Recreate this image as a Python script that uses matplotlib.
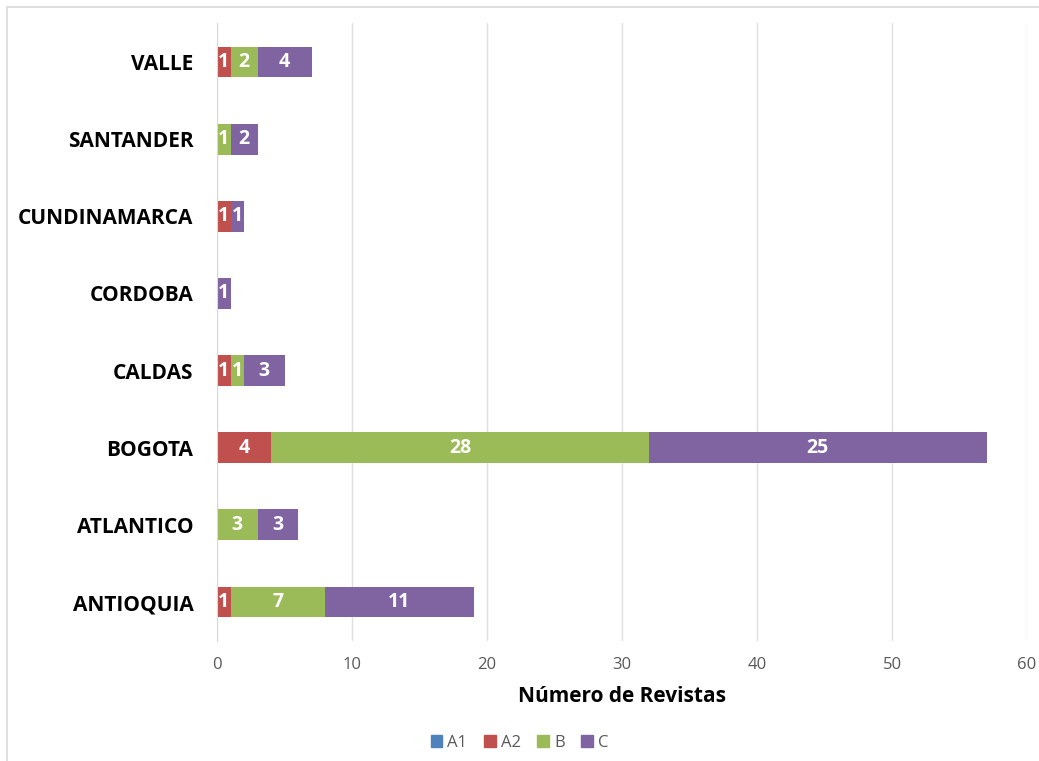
import matplotlib.pyplot as plt
import matplotlib.patches as mpatches
import numpy as np

# datos por departamento (de abajo hacia arriba)
departamentos = ["ANTIOQUIA", "ATLANTICO", "BOGOTA", "CALDAS",
                 "CORDOBA", "CUNDINAMARCA", "SANTANDER", "VALLE"]
a1 = [0, 0, 0, 0, 0, 0, 0, 0]
a2 = [1, 0, 4, 1, 0, 1, 0, 1]
b = [7, 3, 28, 1, 0, 0, 1, 2]
c = [11, 3, 25, 3, 1, 1, 2, 4]

series = ["A1", "A2", "B", "C"]
colores = ["#4F81BD", "#C0504D", "#9BBB59", "#8064A2"]

plt.rcParams['font.family'] = ['Open Sans', 'DejaVu Sans']

fig = plt.figure(figsize=(10.39, 7.61), dpi=100)
ax = fig.add_axes([0.2089, 0.1582, 0.7796, 0.8111])

y = np.arange(len(departamentos))
izq = np.zeros(len(departamentos))
handles = []
for nombre, vals, col in zip(series, [a1, a2, b, c], colores):
    vals = np.array(vals, dtype=float)
    barras = ax.barh(y, vals, left=izq, height=0.4, color=col, label=nombre)
    etiquetas = [str(int(v)) if v > 0 else "" for v in vals]
    ax.bar_label(barras, labels=etiquetas, label_type='center',
                 color='white', fontsize=14, fontweight='bold')
    izq += vals
    handles.append(mpatches.Patch(color=col, label=nombre))

ax.set_xlim(0, 60)
ax.set_ylim(-0.5, len(departamentos) - 0.5)
ax.set_xticks(range(0, 61, 10))
ax.set_yticks(y)
ax.set_yticklabels(departamentos, fontsize=15, fontweight='bold')
ax.tick_params(axis='y', length=0, pad=17)
ax.tick_params(axis='x', length=0, pad=12, labelsize=12, labelcolor='#595959')
ax.xaxis.grid(True, color='#E0E0E0', linewidth=1)
ax.set_axisbelow(True)
for s in ['top', 'right', 'bottom']:
    ax.spines[s].set_visible(False)
ax.spines['left'].set_color('#D9D9D9')

ax.set_xlabel("Número de Revistas", fontsize=15, fontweight='bold', labelpad=9)

fig.legend(handles=handles, loc='center', bbox_to_anchor=(0.5, 0.024), ncol=4,
           frameon=False, fontsize=12, handlelength=0.7, handleheight=0.7,
           handletextpad=0.3, columnspacing=1.0, labelcolor='#595959')

# borde del gráfico
borde = mpatches.Rectangle((7 / 1039, -0.05), 1.1, 1 - 7 / 761 + 0.05,
                           transform=fig.transFigure, fill=False,
                           edgecolor='#D9D9D9', linewidth=1.2)
fig.patches.append(borde)

fig.savefig("out.png", dpi=100)
